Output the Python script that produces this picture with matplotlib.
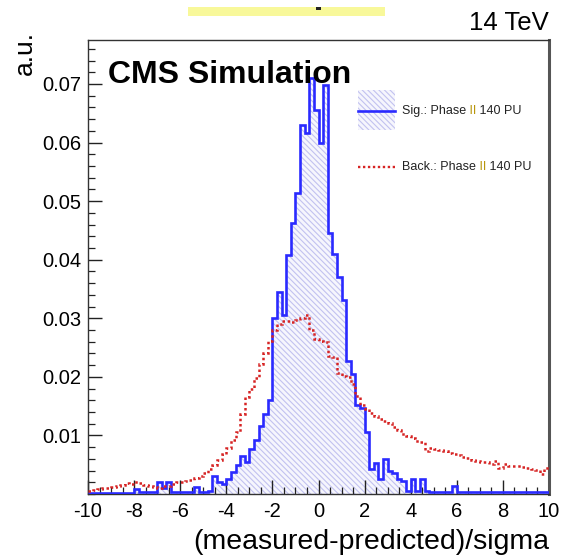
import numpy as np
import matplotlib
matplotlib.use('Agg')
import matplotlib.pyplot as plt
from matplotlib.patches import Rectangle
from matplotlib.lines import Line2D
from matplotlib.ticker import MultipleLocator, FixedLocator

plt.rcParams['font.family'] = ['Liberation Sans', 'DejaVu Sans']
plt.rcParams['hatch.linewidth'] = 0.8

# ---------------- data ----------------
x_min, x_max, n_bins = -10.0, 10.0, 100

signal = [
    0.0002, 0.0002, 0.0002, 0.0002, 0.0002, 0.0002, 0.0002, 0.0002, 0.0002, 0.0002,
    0.0008, 0.0003, 0.0003, 0.0003, 0.0003, 0.0020, 0.0010, 0.0020, 0.0004, 0.0003,
    0.0003, 0.0003, 0.0003, 0.0012, 0.0004, 0.0004, 0.0005, 0.0030, 0.0021, 0.0017,
    0.0025, 0.0037, 0.0050, 0.0065, 0.0054, 0.0076, 0.0093, 0.0116, 0.0136, 0.0161,
    0.0300, 0.0345, 0.0306, 0.0408, 0.0463, 0.0514, 0.0630, 0.0617, 0.0710, 0.0655,
    0.0600, 0.0698, 0.0445, 0.0410, 0.0370, 0.0332, 0.0227, 0.0205, 0.0152, 0.0147,
    0.0105, 0.0042, 0.0053, 0.0025, 0.0059, 0.0039, 0.0036, 0.0025, 0.0023, 0.0005,
    0.0025, 0.0005, 0.0025, 0.0005, 0.0004, 0.0004, 0.0003, 0.0004, 0.0003, 0.0014,
    0.0004, 0.0003, 0.0003, 0.0004, 0.0003, 0.0003, 0.0003, 0.0004, 0.0003, 0.0003,
    0.0003, 0.0003, 0.0003, 0.0003, 0.0003, 0.0003, 0.0003, 0.0003, 0.0003, 0.0003,
]

background = [
    0.0005, 0.0007, 0.0008, 0.0010, 0.0011, 0.0012, 0.0014, 0.0015, 0.0018, 0.0017,
    0.0020, 0.0018, 0.0015, 0.0014, 0.0012, 0.0011, 0.0013, 0.0014, 0.0017, 0.0020,
    0.0020, 0.0022, 0.0024, 0.0027, 0.0030, 0.0036, 0.0042, 0.0050, 0.0058, 0.0068,
    0.0078, 0.0092, 0.0106, 0.0136, 0.0165, 0.0180, 0.0198, 0.0222, 0.0240, 0.0262,
    0.0280, 0.0290, 0.0296, 0.0295, 0.0294, 0.0297, 0.0300, 0.0305, 0.0280, 0.0265,
    0.0262, 0.0260, 0.0236, 0.0234, 0.0207, 0.0202, 0.0200, 0.0187, 0.0168, 0.0152,
    0.0145, 0.0139, 0.0133, 0.0128, 0.0124, 0.0121, 0.0115, 0.0110, 0.0102, 0.0099,
    0.0096, 0.0091, 0.0089, 0.0073, 0.0078, 0.0077, 0.0075, 0.0073, 0.0070, 0.0068,
    0.0066, 0.0063, 0.0061, 0.0058, 0.0056, 0.0055, 0.0054, 0.0052, 0.0057, 0.0045,
    0.0051, 0.0048, 0.0048, 0.0047, 0.0046, 0.0044, 0.0043, 0.0041, 0.0034, 0.0044,
]

x_ticks = [-10, -8, -6, -4, -2, 0, 2, 4, 6, 8, 10]
x_tick_labels = ['-10', '-8', '-6', '-4', '-2', '0', '2', '4', '6', '8', '10']
y_ticks = [0.01, 0.02, 0.03, 0.04, 0.05, 0.06, 0.07]
y_tick_labels = ['0.01', '0.02', '0.03', '0.04', '0.05', '0.06', '0.07']

sig_label = [('Sig.: Phase', '#222222'), (' II', '#b8960c'), (' 140 PU', '#222222')]
bkg_label = [('Back.: Phase', '#222222'), (' II', '#b8960c'), (' 140 PU', '#222222')]

# ---------------- figure ----------------
W, H = 565, 555
fig = plt.figure(figsize=(W / 100, H / 100), dpi=100)
L, R, T, B = 88, 549, 40, 494
ax = fig.add_axes([L / W, 1 - B / H, (R - L) / W, (B - T) / H])

edges = np.linspace(x_min, x_max, n_bins + 1)
sig_col = '#2a2aff'
hatch_col = '#c2c2f0'
bkg_col = '#d62424'
hatch_pat = '\\\\\\\\\\\\'

ax.stairs(signal, edges, fill=True, facecolor='#f6f6fd', edgecolor=hatch_col,
          hatch=hatch_pat, linewidth=0, baseline=0, zorder=1)
ax.stairs(signal, edges, color=sig_col, linewidth=1.9, baseline=None, zorder=3)
ax.stairs(background, edges, color=bkg_col, linewidth=1.8,
          linestyle=(0, (1.0, 1.1)), baseline=None, zorder=4)

ax.set_xlim(x_min, x_max)
ax.set_ylim(0, 0.0775)

ax.xaxis.set_major_locator(FixedLocator(x_ticks))
ax.set_xticklabels(x_tick_labels)
ax.xaxis.set_minor_locator(MultipleLocator(0.5))
ax.yaxis.set_major_locator(FixedLocator(y_ticks))
ax.set_yticklabels(y_tick_labels)
ax.yaxis.set_minor_locator(MultipleLocator(0.002))

ax.tick_params(axis='both', which='major', direction='in', length=10, width=1.0,
               color='#222222', labelsize=14.5, top=False, right=False)
ax.tick_params(axis='both', which='minor', direction='in', length=5, width=0.9,
               color='#222222', top=False, right=False)
ax.tick_params(axis='x', which='major', pad=6)
ax.tick_params(axis='y', which='major', pad=5)

for s in ['left', 'bottom', 'top']:
    ax.spines[s].set_color('#333333')
    ax.spines[s].set_linewidth(1.0)
ax.spines['right'].set_color('#555555')
ax.spines['right'].set_linewidth(2.2)

# texts
ax.text(0.043, 0.905, 'CMS Simulation', transform=ax.transAxes, fontsize=23,
        fontweight='bold', ha='left', va='baseline', zorder=6)
fig.text(549 / W, 1 - 30 / H, '14 TeV', fontsize=18.5, ha='right', va='baseline')
fig.text(25 / W, 1 - 31 / H, 'a.u.', fontsize=19, rotation=90, ha='center', va='top')
fig.text(549 / W, 1 - 549 / H, '(measured-predicted)/sigma', fontsize=20.5,
         ha='right', va='baseline')

# yellow highlight strip at top (cut-off title)
fig.patches.append(Rectangle((188 / W, 1 - 16 / H), (385 - 188) / W, 9 / H,
                             transform=fig.transFigure, facecolor='#f8f89a',
                             edgecolor='none', zorder=0))
fig.patches.append(Rectangle((316 / W, 1 - 10 / H), 5 / W, 3 / H,
                             transform=fig.transFigure, facecolor='#222222',
                             edgecolor='none', zorder=1))

# legend (manual)
def ax_xy(px, py):
    return (px - L) / (R - L), (B - py) / (B - T)

x0, y_top = ax_xy(358, 90)
x1, y_bot = ax_xy(395, 130)
ax.add_patch(Rectangle((x0, y_bot), x1 - x0, y_top - y_bot, transform=ax.transAxes,
                       facecolor='#f6f6fd', edgecolor=hatch_col, hatch=hatch_pat,
                       linewidth=0, zorder=5))
_, yl1 = ax_xy(0, 111)
_, yl2 = ax_xy(0, 167)
ax.add_line(Line2D([x0, x1], [yl1, yl1], transform=ax.transAxes, color=sig_col,
                   linewidth=1.9, zorder=6))
ax.add_line(Line2D([x0, x1], [yl2, yl2], transform=ax.transAxes, color=bkg_col,
                   linewidth=1.7, linestyle=(0, (1.0, 1.1)), zorder=6))

def chained_text(x, y, parts, size):
    t = ax.text(x, y, parts[0][0], transform=ax.transAxes, fontsize=size,
                color=parts[0][1], ha='left', va='center', zorder=6)
    for s, c in parts[1:]:
        t = ax.annotate(s, xy=(1, 0), xycoords=t, fontsize=size, color=c,
                        ha='left', va='bottom', zorder=6)

tx, _ = ax_xy(402, 0)
chained_text(tx, yl1, sig_label, 9)
chained_text(tx, yl2, bkg_label, 9)

fig.savefig('out.png', dpi=100)
